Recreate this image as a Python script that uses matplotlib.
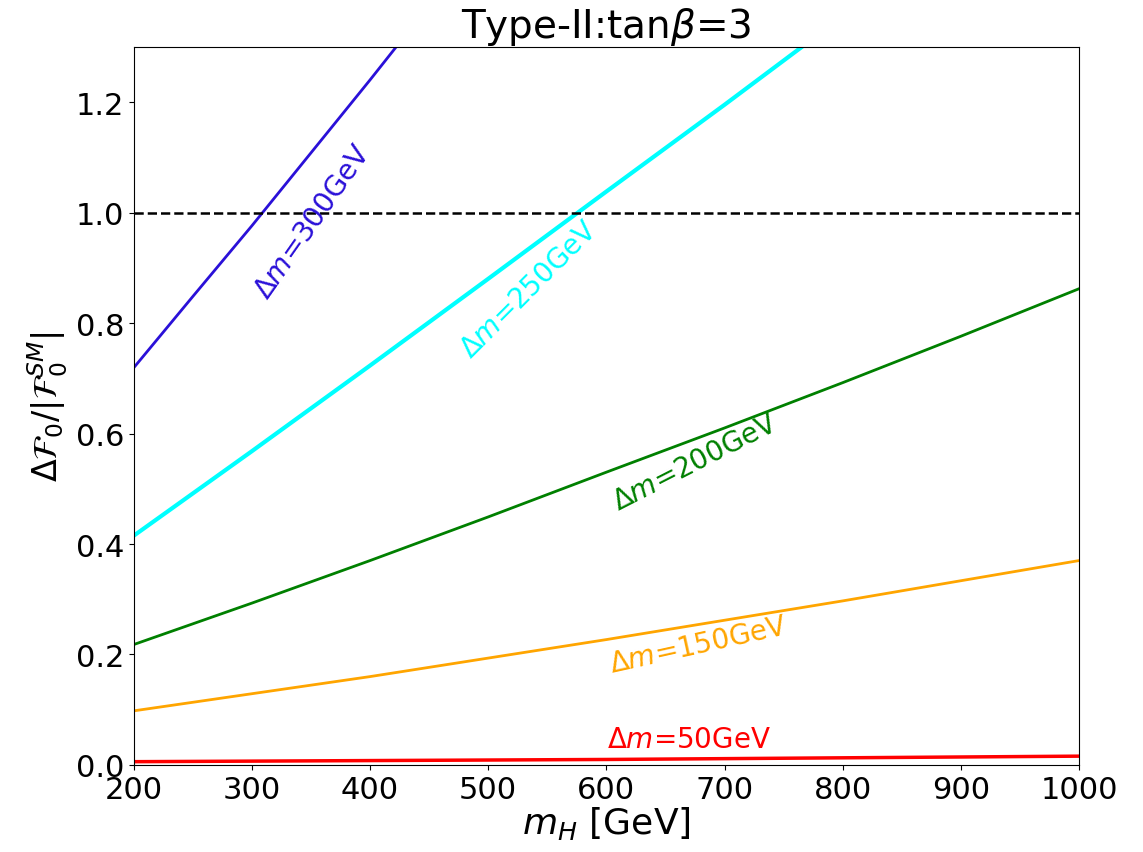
import matplotlib
matplotlib.use("Agg")
import matplotlib.pyplot as plt
import numpy as np

# Data
x_300 = [200, 250, 300, 350, 400, 450]
y_300 = [0.719, 0.848, 0.976, 1.108, 1.240, 1.375]

x_250 = [200, 300, 400, 500, 600, 700, 800]
y_250 = [0.415, 0.568, 0.723, 0.880, 1.038, 1.195, 1.355]

x_200 = [200, 300, 400, 500, 600, 700, 800, 900, 1000]
y_200 = [0.218, 0.293, 0.370, 0.449, 0.530, 0.610, 0.692, 0.776, 0.862]

x_150 = [200, 400, 600, 800, 1000]
y_150 = [0.098, 0.160, 0.227, 0.297, 0.370]

x_50 = [200, 600, 1000]
y_50 = [0.006, 0.010, 0.016]

labels = ["$\\Delta m$=300GeV", "$\\Delta m$=250GeV", "$\\Delta m$=200GeV",
          "$\\Delta m$=150GeV", "$\\Delta m$=50GeV"]
label_x = [352, 535, 675, 678, 670]
label_y = [0.985, 0.862, 0.548, 0.218, 0.047]
label_rot = [55, 45, 27, 12.5, 0]
colors = ["#2a10d8", "cyan", "green", "orange", "red"]

fig = plt.figure(figsize=(11.43, 8.53), dpi=100)
ax = fig.add_axes([0.117, 0.102, 0.827, 0.842])

series = [(x_300, y_300), (x_250, y_250), (x_200, y_200), (x_150, y_150), (x_50, y_50)]
lws = [2.0, 3.0, 2.0, 2.0, 2.5]
for (xs, ys), c, lw in zip(series, colors, lws):
    ax.plot(xs, ys, color=c, lw=lw)

ax.axhline(1.0, color="black", ls="--", lw=1.8)

for t, lx, ly, r, c in zip(labels, label_x, label_y, label_rot, colors):
    ax.text(lx, ly, t, color=c, rotation=r, fontsize=20, ha="center", va="center",
            rotation_mode="anchor")

ax.set_xlim(200, 1000)
ax.set_ylim(0, 1.3)
ax.set_xticks([200, 300, 400, 500, 600, 700, 800, 900, 1000])
ax.set_yticks([0.0, 0.2, 0.4, 0.6, 0.8, 1.0, 1.2])
ax.tick_params(labelsize=22)
ax.set_xlabel("$m_H$ [GeV]", fontsize=26, labelpad=0)
ax.set_ylabel("$\\Delta\\mathcal{F}_0/|\\mathcal{F}_0^{SM}|$", fontsize=24, labelpad=4)
ax.set_title("Type-II:tan$\\beta$=3", fontsize=28, pad=6)

fig.savefig("out.png", dpi=100)
